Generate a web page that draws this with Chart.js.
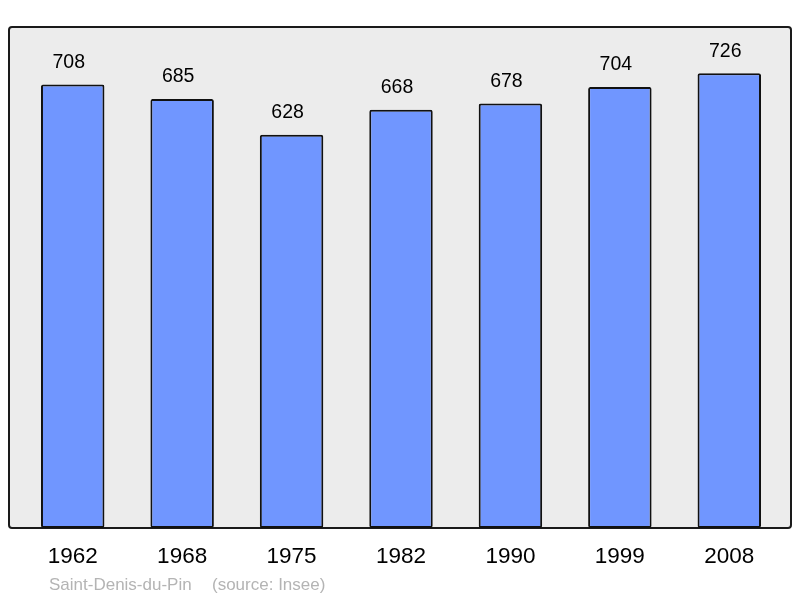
<!DOCTYPE html>
<html>
<head>
<meta charset="utf-8">
<script src="https://cdn.jsdelivr.net/npm/chart.js@4"></script>
<style>
  html, body { margin: 0; padding: 0; background: #fff; }
  #wrap { width: 800px; height: 598px; position: relative; }
</style>
</head>
<body>
<div id="wrap"><canvas id="popChart"></canvas></div>
<script>
const years = ['1962', '1968', '1975', '1982', '1990', '1999', '2008'];
const population = [708, 685, 628, 668, 678, 704, 726];
const yMax = 800;
const placeName = 'Saint-Denis-du-Pin';
const sourceText = '(source: Insee)';

// grey frame behind the bars
const framePlugin = {
    id: 'frame',
    beforeDatasetsDraw(chart) {
        const { ctx, chartArea } = chart;
        const x0 = chartArea.left - 9, x1 = chartArea.right + 7;
        const y0 = chartArea.top, y1 = chartArea.bottom;
        ctx.save();
        ctx.beginPath();
        ctx.roundRect(x0, y0, x1 - x0, y1 - y0, 3);
        ctx.fillStyle = '#ececec';
        ctx.fill();
        ctx.lineWidth = 2;
        ctx.strokeStyle = '#1a1a1a';
        ctx.stroke();
        ctx.restore();
    }
};

// value labels, year labels and footer
const labelPlugin = {
    id: 'labels',
    afterDatasetsDraw(chart) {
        const { ctx, chartArea } = chart;
        const meta = chart.getDatasetMeta(0);
        ctx.save();
        ctx.textAlign = 'center';
        ctx.textBaseline = 'middle';
        ctx.fillStyle = '#000';
        ctx.font = '19.5px "Liberation Sans", Arial, sans-serif';
        meta.data.forEach((bar, i) => {
            ctx.fillText(String(population[i]), bar.x - 4, bar.y - 22);
        });
        ctx.font = '22.5px "Liberation Sans", Arial, sans-serif';
        const xScale = chart.scales.x;
        years.forEach((yr, i) => {
            ctx.fillText(yr, xScale.getPixelForValue(i), chartArea.bottom + 29);
        });
        ctx.textAlign = 'left';
        ctx.fillStyle = '#b4b4b4';
        ctx.font = '17px "Liberation Sans", Arial, sans-serif';
        ctx.fillText(placeName, 49, chartArea.bottom + 57);
        ctx.fillText(sourceText, 212, chartArea.bottom + 57);
        ctx.restore();
    }
};

const ctx = document.getElementById('popChart').getContext('2d');
new Chart(ctx, {
    type: 'bar',
    data: {
        labels: years,
        datasets: [{
            data: population,
            backgroundColor: '#7096ff',
            borderColor: '#111',
            borderWidth: 2,
            borderRadius: 2,
            borderSkipped: false,
            barPercentage: 0.58,
            categoryPercentage: 1
        }]
    },
    options: {
        responsive: true,
        maintainAspectRatio: false,
        animation: false,
        layout: { padding: { left: 18, right: 16, top: 27, bottom: 70 } },
        plugins: {
            legend: { display: false },
            tooltip: { enabled: false }
        },
        scales: {
            x: { display: false },
            y: { display: false, min: 0, max: yMax }
        }
    },
    plugins: [framePlugin, labelPlugin]
});
</script>
</body>
</html>
